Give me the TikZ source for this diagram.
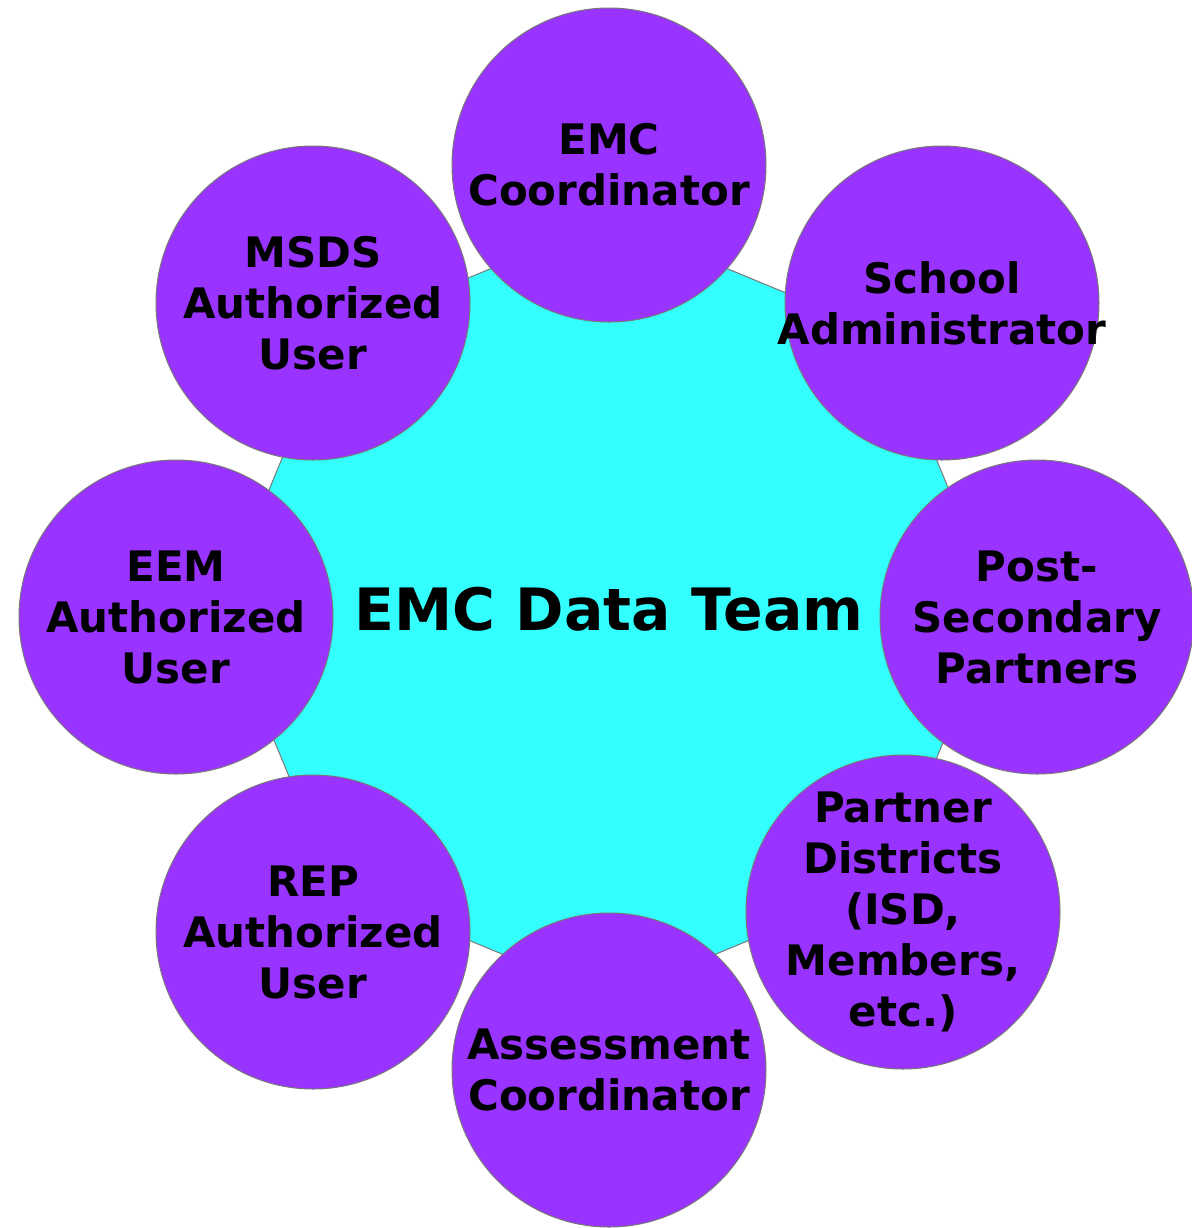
\documentclass[tikz,border=0pt]{standalone}
\usepackage{fontspec}
\setmainfont{DejaVu Sans}
\usetikzlibrary{shapes.geometric}
\definecolor{rolepurple}{RGB}{153,51,255}
\definecolor{teamcyan}{RGB}{51,255,255}
\definecolor{rimgray}{RGB}{120,120,120}

\begin{document}
\begin{tikzpicture}[x=0.5pt, y=-0.5pt,
    role/.style={circle, draw=rimgray, line width=0.5pt, fill=rolepurple,
        minimum size=157pt, inner sep=-30pt, align=center,
        font=\fontsize{21}{25.5}\selectfont\bfseries},
    team/.style={regular polygon, regular polygon sides=8, shape border rotate=22.5,
        draw=rimgray, line width=0.5pt, fill=teamcyan, minimum size=376pt,
        inner sep=0pt, font=\fontsize{29.2}{34}\selectfont\bfseries}]

    \useasboundingbox (0,0) rectangle (1192,1228);

    % Centre
    \node (team) [team] at (609,609) {EMC Data Team};

    % Roles
    \node (emc) [role] at (609,165) {EMC\\Coordinator};
    \node (admin) [role] at (942,303) {School\\Administrator};
    \node (post) [role] at (1037,617) {Post-\\Secondary\\Partners};
    \node (partner) [role] at (903,912) {Partner\\Districts\\(ISD,\\Members,\\etc.)};
    \node (assess) [role] at (609,1070) {Assessment\\Coordinator};
    \node (rep) [role] at (313,932) {REP\\Authorized\\User};
    \node (eem) [role] at (176,617) {EEM\\Authorized\\User};
    \node (msds) [role] at (313,303) {MSDS\\Authorized\\User};
\end{tikzpicture}
\end{document}
